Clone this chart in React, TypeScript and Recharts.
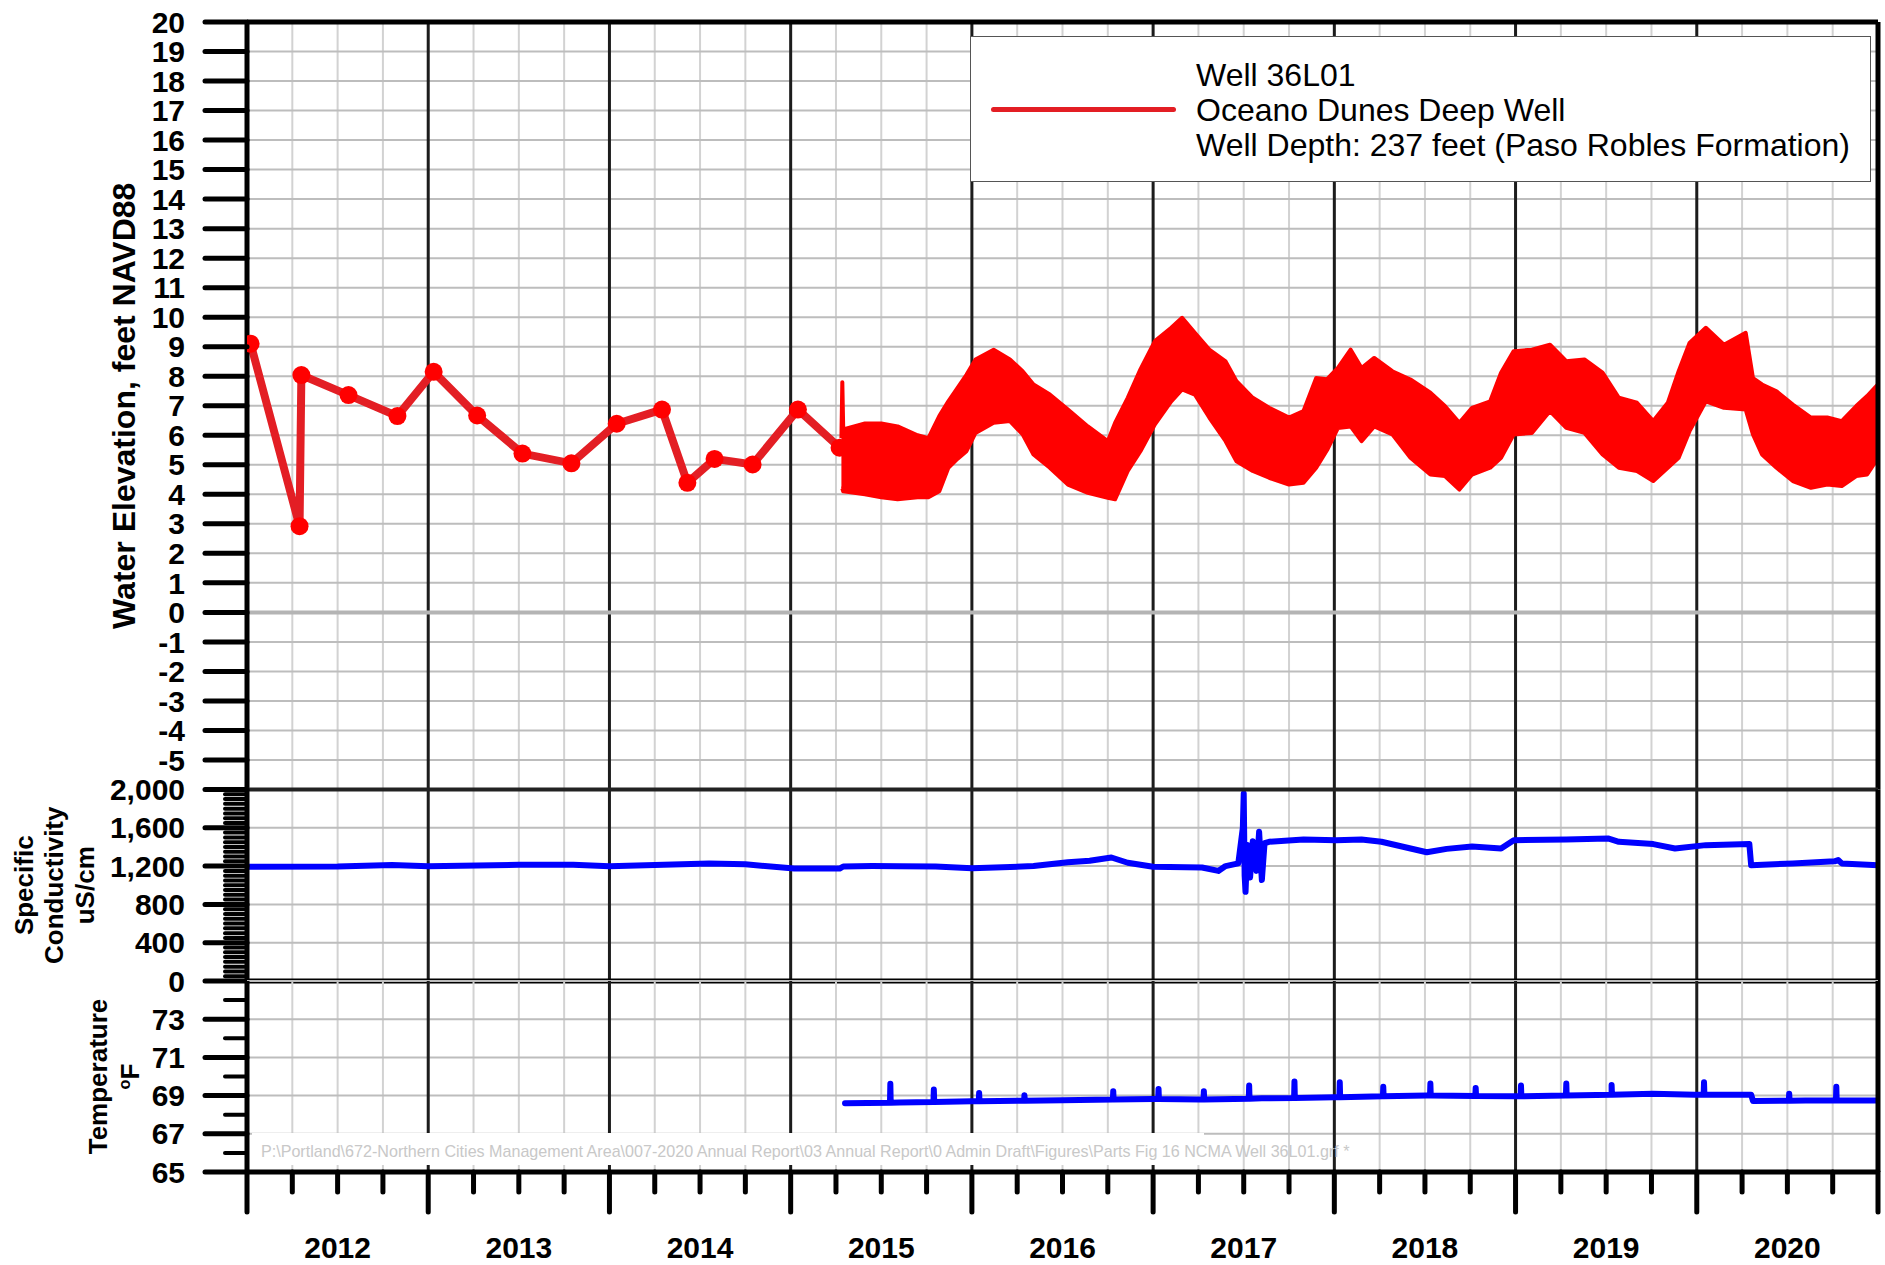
import React from "react";
import { ComposedChart, Line, Area, XAxis, YAxis, CartesianGrid, ReferenceLine, Legend } from "recharts";

const FONT = '"Liberation Sans", Arial, Helvetica, sans-serif';
const W = 1885;
const H = 1265;

// ---- axes (decimal years on x) ----
const X_DOMAIN: [number, number] = [2012, 2021];
const YEAR_TICKS = [2012, 2013, 2014, 2015, 2016, 2017, 2018, 2019, 2020, 2021];
const QUARTER_TICKS = [
  2012, 2012.25, 2012.5, 2012.75, 2013, 2013.25, 2013.5, 2013.75, 2014, 2014.25, 2014.5, 2014.75,
  2015, 2015.25, 2015.5, 2015.75, 2016, 2016.25, 2016.5, 2016.75, 2017, 2017.25, 2017.5, 2017.75,
  2018, 2018.25, 2018.5, 2018.75, 2019, 2019.25, 2019.5, 2019.75, 2020, 2020.25, 2020.5, 2020.75, 2021,
];
const WATER_TICKS = [-5, -4, -3, -2, -1, 0, 1, 2, 3, 4, 5, 6, 7, 8, 9, 10, 11, 12, 13, 14, 15, 16, 17, 18, 19, 20];
const COND_LABELS = [0, 400, 800, 1200, 1600, 2000];
const COND_TICKS = [
  0, 50, 100, 150, 200, 250, 300, 350, 400, 450, 500, 550, 600, 650, 700, 750, 800, 850, 900, 950, 1000,
  1050, 1100, 1150, 1200, 1250, 1300, 1350, 1400, 1450, 1500, 1550, 1600, 1650, 1700, 1750, 1800, 1850, 1900, 1950, 2000,
];
const TEMP_LABELS = [65, 67, 69, 71, 73];
const TEMP_TICKS = [65, 66, 67, 68, 69, 70, 71, 72, 73, 74];

// ---- texts ----
const WATER_TITLE = ["Water Elevation, feet NAVD88"];
const COND_TITLE = ["Specific", "Conductivity", "uS/cm"];
const TEMP_TITLE = ["Temperature", "oF"];
const LEGEND_LINES = ["Well 36L01", "Oceano Dunes Deep Well", "Well Depth: 237 feet (Paso Robles Formation)"];
const FILE_PATH =
  "P:\\Portland\\672-Northern Cities Management Area\\007-2020 Annual Report\\03 Annual Report\\0 Admin Draft\\Figures\\Parts Fig 16 NCMA Well 36L01.grf *";

// ---- manual water level measurements ----
const MANUAL_YEARS = [2012.02, 2012.29, 2012.3, 2012.56, 2012.83, 2013.03, 2013.27, 2013.52, 2013.79, 2014.04, 2014.29, 2014.43, 2014.58, 2014.79, 2015.04, 2015.27];
const MANUAL_ELEV = [9.1, 2.92, 8.04, 7.36, 6.65, 8.15, 6.67, 5.38, 5.05, 6.39, 6.87, 4.39, 5.2, 5.01, 6.87, 5.58];

// ---- transducer record: daily swing envelope ----
const BAND_YEARS = [
  2015.28, 2015.285, 2015.29, 2015.41, 2015.5, 2015.59, 2015.7, 2015.76, 2015.82, 2015.87, 2015.92, 2015.97,
  2016.02, 2016.12, 2016.21, 2016.28, 2016.34, 2016.43, 2016.53, 2016.64, 2016.75, 2016.79, 2016.86, 2016.93,
  2017.01, 2017.1, 2017.16, 2017.23, 2017.31, 2017.4, 2017.46, 2017.55, 2017.64, 2017.75, 2017.83, 2017.9, 2017.96,
  2018.02, 2018.09, 2018.15, 2018.22, 2018.32, 2018.42, 2018.53, 2018.61, 2018.69, 2018.76, 2018.86, 2018.92, 2018.99,
  2019.09, 2019.19, 2019.28, 2019.38, 2019.48, 2019.57, 2019.67, 2019.76, 2019.84, 2019.9, 2019.96,
  2020.05, 2020.15, 2020.27, 2020.31, 2020.36, 2020.44, 2020.53, 2020.63, 2020.72, 2020.8, 2020.88, 2020.94, 2021.0,
];
const BAND_LOW = [
  4.2, 4.2, 4.1, 4.0, 3.9, 3.83, 3.9, 3.9, 4.1, 4.9, 5.2, 5.46,
  6.08, 6.42, 6.48, 6.03, 5.35, 4.9, 4.33, 4.05, 3.88, 3.83, 4.79, 5.46,
  6.37, 7.15, 7.55, 7.38, 6.6, 5.8, 5.12, 4.79, 4.56, 4.33, 4.39, 4.9, 5.5,
  6.25, 6.3, 5.8, 6.3, 6.03, 5.24, 4.67, 4.62, 4.16, 4.67, 4.9, 5.24, 6.03,
  6.08, 6.82, 6.25, 6.08, 5.35, 4.9, 4.79, 4.45, 4.9, 5.24, 6.14,
  7.15, 6.93, 6.87, 6.03, 5.35, 4.9, 4.45, 4.22, 4.33, 4.28, 4.62, 4.67, 5.24,
];
const BAND_HIGH = [
  5.9, 7.8, 6.2, 6.4, 6.4, 6.3, 6.0, 5.9, 6.65, 7.15, 7.6, 8.05,
  8.57, 8.9, 8.57, 8.17, 7.72, 7.38, 6.87, 6.3, 5.8, 6.42, 7.27, 8.23,
  9.19, 9.64, 9.98, 9.47, 8.9, 8.5, 7.83, 7.27, 6.93, 6.6, 6.82, 7.94, 7.9,
  8.28, 8.9, 8.28, 8.62, 8.17, 7.89, 7.44, 6.99, 6.42, 6.93, 7.15, 8.12, 8.85,
  8.9, 9.07, 8.51, 8.57, 8.12, 7.27, 7.1, 6.48, 7.1, 8.17, 9.13,
  9.64, 9.07, 9.47, 7.94, 7.72, 7.49, 7.04, 6.6, 6.6, 6.48, 6.99, 7.33, 7.72,
];

// ---- specific conductivity ----
const COND_YEARS = [
  2012.0, 2012.5, 2012.8, 2013.0, 2013.5, 2013.8, 2014.0, 2014.55, 2014.75, 2015.02, 2015.27, 2015.29, 2015.45,
  2015.6, 2015.8, 2016.0, 2016.34, 2016.53, 2016.65, 2016.77, 2016.86, 2017.0, 2017.27, 2017.36, 2017.4, 2017.47,
  2017.495, 2017.5, 2017.505, 2017.51, 2017.52, 2017.535, 2017.55, 2017.57, 2017.585, 2017.6, 2017.615, 2017.64,
  2017.83, 2018.01, 2018.15, 2018.26, 2018.51, 2018.62, 2018.76, 2018.92, 2018.99, 2019.28, 2019.51, 2019.57,
  2019.76, 2019.88, 2020.05, 2020.29, 2020.3, 2020.53, 2020.76, 2020.78, 2020.8, 2021.0,
];
const COND_VALUES = [
  1192, 1196, 1212, 1199, 1213, 1213, 1199, 1226, 1219, 1174, 1174, 1196, 1200,
  1198, 1195, 1178, 1200, 1240, 1255, 1290, 1235, 1193, 1186, 1150, 1200, 1228,
  1600, 1958, 1100, 932, 1420, 1080, 1460, 1150, 1558, 1054, 1440, 1454,
  1478, 1471, 1478, 1454, 1345, 1380, 1405, 1384, 1471, 1478, 1489, 1454,
  1430, 1384, 1419, 1430, 1210, 1228, 1250, 1263, 1228, 1210,
];

// ---- temperature ----
const TEMP_YEARS = [2015.3, 2015.6, 2016.0, 2016.5, 2017.0, 2017.26, 2017.6, 2018.0, 2018.51, 2019.0, 2019.53, 2019.76, 2019.99, 2020.3, 2020.31, 2020.6, 2021.0];
const TEMP_VALUES = [68.6, 68.64, 68.7, 68.76, 68.82, 68.79, 68.86, 68.92, 69.0, 68.96, 69.04, 69.1, 69.05, 69.05, 68.72, 68.74, 68.75];
const SPIKE_YEARS = [2015.55, 2015.79, 2016.04, 2016.29, 2016.78, 2017.03, 2017.28, 2017.53, 2017.78, 2018.03, 2018.27, 2018.53, 2018.78, 2019.03, 2019.28, 2019.53, 2020.04, 2020.51, 2020.77];
const SPIKE_BASE = [68.63, 68.67, 68.7, 68.73, 68.79, 68.82, 68.79, 68.83, 68.88, 68.92, 68.96, 69.0, 68.98, 68.96, 69.0, 69.04, 69.05, 68.73, 68.74];
const SPIKE_PEAK = [69.62, 69.32, 69.14, 69.02, 69.23, 69.35, 69.23, 69.53, 69.74, 69.7, 69.46, 69.63, 69.4, 69.53, 69.63, 69.56, 69.7, 69.1, 69.46];

const manualData = MANUAL_YEARS.map((x, i) => ({ x, elev: MANUAL_ELEV[i] }));
const bandData = BAND_YEARS.map((x, i) => ({ x, range: [BAND_LOW[i], BAND_HIGH[i]] }));
const condData = COND_YEARS.map((x, i) => ({ x, cond: COND_VALUES[i] }));
const tempData = [
  ...TEMP_YEARS.map((x, i) => ({ x, temp: TEMP_VALUES[i] })),
  ...SPIKE_YEARS.flatMap((x, i) => [
    { x: x - 0.002, temp: SPIKE_BASE[i] },
    { x, temp: SPIKE_PEAK[i] },
    { x: x + 0.002, temp: SPIKE_BASE[i] },
  ]),
].sort((a, b) => a.x - b.x);

const GRID_GRAY = "#d2d2d2";
const GRID_H = "#bdbdbd";
const YEAR_LINE = "#1c1c1c";

// left axis tick: long line + label for labelled values, short line otherwise
const leftTick = (labels: number[], fmt: (v: number) => string) => (props: any) => {
  const { x, y, payload } = props;
  const major = labels.includes(payload.value);
  return (
    <g>
      <line x1={x - (major ? 42 : 22)} x2={x} y1={y} y2={y} stroke="#000" strokeWidth={major ? 5 : 4} strokeLinecap="round" />
      {major && (
        <text x={x - 62} y={y} dy="0.355em" textAnchor="end" fontSize={30} fontWeight={700} fontFamily={FONT} fill="#000">
          {fmt(payload.value)}
        </text>
      )}
    </g>
  );
};

const BottomTick = (props: any) => {
  const { x, y, payload } = props;
  const v = payload.value as number;
  const isYear = Math.abs(v - Math.round(v)) < 1e-6;
  const isMid = Math.abs(v - Math.floor(v) - 0.5) < 1e-6;
  return (
    <g>
      <line x1={x} x2={x} y1={y} y2={y + (isYear ? 40 : 20)} stroke="#000" strokeWidth={5} strokeLinecap="round" />
      {isMid && (
        <text x={x} y={y + 86} textAnchor="middle" fontSize={30} fontWeight={700} fontFamily={FONT} fill="#000">
          {Math.floor(v)}
        </text>
      )}
    </g>
  );
};

const SideTitle = ({ viewBox, lines, xs, fontSize, fallbackY }: any) => {
  const cy = viewBox && viewBox.height ? viewBox.y + viewBox.height / 2 : fallbackY;
  return (
    <g>
      {lines.map((t: string, i: number) => (
        <text
          key={t}
          x={xs[i]}
          y={cy}
          transform={`rotate(-90, ${xs[i]}, ${cy})`}
          textAnchor="middle"
          fontSize={fontSize}
          fontWeight={700}
          fontFamily={FONT}
          fill="#000"
        >
          {t === "oF" ? (
            <>
              <tspan dy={0.35 * fontSize - 9} fontSize={fontSize * 0.62}>o</tspan>
              <tspan dy={9}>F</tspan>
            </>
          ) : (
            <tspan dy={0.35 * fontSize}>{t}</tspan>
          )}
        </text>
      ))}
    </g>
  );
};

const WellLegend = (props: any) => {
  const item = (props.payload || []).find((p: any) => p.value === LEGEND_LINES[0]);
  const color = item ? item.color : "#e31e24";
  return (
    <div style={{ position: "relative", width: 899, height: 144, border: "1px solid #555", background: "#fff", fontFamily: FONT }}>
      <div style={{ position: "absolute", left: 20, top: 70, width: 185, height: 5, borderRadius: 3, background: color }} />
      <div style={{ position: "absolute", left: 225, top: 21, fontSize: 32, lineHeight: "35px", color: "#000", whiteSpace: "nowrap" }}>
        {LEGEND_LINES.map((l) => (
          <div key={l}>{l}</div>
        ))}
      </div>
    </div>
  );
};

const hiddenX = () => [
  <XAxis key="q" xAxisId="q" dataKey="x" type="number" domain={X_DOMAIN} ticks={QUARTER_TICKS} interval={0} allowDataOverflow hide />,
];

// black year boundaries, drawn through the axis scale
const yearLines = (yId: string) =>
  YEAR_TICKS.slice(1, -1).map((yr) => (
    <ReferenceLine key={`yr${yr}`} xAxisId="q" yAxisId={yId} x={yr} stroke={YEAR_LINE} strokeWidth={3} zIndex={-50} />
  ));

const layer: React.CSSProperties = { position: "absolute", left: 0, top: 0 };
const fmtPlain = (v: number) => String(v);
const fmtComma = (v: number) => v.toLocaleString("en-US");

export default function App() {
  return (
    <div style={{ position: "absolute", left: 0, top: 0, width: W, height: H, background: "#fff", overflow: "hidden" }}>
      {/* water elevation */}
      <div style={layer}>
        <ComposedChart width={W} height={H} margin={{ top: 22, right: 7, bottom: 475.5, left: 0 }}>
          {hiddenX()}
          <YAxis
            yAxisId="w"
            type="number"
            domain={[-6, 20]}
            ticks={WATER_TICKS}
            interval={0}
            allowDataOverflow
            width={247}
            tickSize={0}
            tickMargin={0}
            tickLine={false}
            axisLine={{ stroke: "#000", strokeWidth: 5 }}
            tick={leftTick(WATER_TICKS, fmtPlain)}
            label={(p: any) => <SideTitle viewBox={p.viewBox} lines={WATER_TITLE} xs={[124]} fontSize={32} fallbackY={406} />}
          />
          <CartesianGrid xAxisId="q" yAxisId="w" horizontal={false} stroke={GRID_GRAY} strokeWidth={2} />
          <CartesianGrid xAxisId="q" yAxisId="w" vertical={false} stroke={GRID_H} strokeWidth={2} />
          {yearLines("w")}
          <ReferenceLine xAxisId="q" yAxisId="w" y={0} stroke="#b4b4b4" strokeWidth={4} />
          <Area
            xAxisId="q"
            yAxisId="w"
            data={bandData}
            dataKey="range"
            type="linear"
            stroke="#ff0000"
            strokeWidth={4}
            strokeLinejoin="round"
            fill="#ff0000"
            fillOpacity={1}
            legendType="none"
            isAnimationActive={false}
          />
          <Line
            xAxisId="q"
            yAxisId="w"
            data={manualData}
            dataKey="elev"
            name={LEGEND_LINES[0]}
            type="linear"
            stroke="#e31e24"
            strokeWidth={8}
            dot={{ r: 9, fill: "#ff0000", stroke: "#ff0000", strokeWidth: 0 }}
            isAnimationActive={false}
          />
          <ReferenceLine xAxisId="q" yAxisId="w" y={20} stroke="#000" strokeWidth={5} />
          <ReferenceLine xAxisId="q" yAxisId="w" x={2021} stroke="#000" strokeWidth={5} />
          <Legend
            layout="horizontal"
            align="center"
            verticalAlign="middle"
            wrapperStyle={{ left: 970, top: 36, width: 901, height: 146 }}
            content={(p: any) => <WellLegend {...p} />}
          />
        </ComposedChart>
      </div>

      {/* specific conductivity */}
      <div style={layer}>
        <ComposedChart width={W} height={H} margin={{ top: 789.5, right: 7, bottom: 284, left: 0 }}>
          {hiddenX()}
          <YAxis
            yAxisId="c"
            type="number"
            domain={[0, 2000]}
            ticks={COND_TICKS}
            interval={0}
            allowDataOverflow
            width={247}
            tickSize={0}
            tickMargin={0}
            tickLine={false}
            axisLine={{ stroke: "#000", strokeWidth: 5 }}
            tick={leftTick(COND_LABELS, fmtComma)}
            label={(p: any) => <SideTitle viewBox={p.viewBox} lines={COND_TITLE} xs={[24, 54, 85]} fontSize={26} fallbackY={885} />}
          />
          <YAxis yAxisId="cg" type="number" domain={[0, 2000]} ticks={COND_LABELS} interval={0} allowDataOverflow hide />
          <CartesianGrid xAxisId="q" yAxisId="cg" horizontal={false} stroke={GRID_GRAY} strokeWidth={2} />
          <CartesianGrid xAxisId="q" yAxisId="cg" vertical={false} stroke={GRID_H} strokeWidth={2} />
          {yearLines("c")}
          <Line
            xAxisId="q"
            yAxisId="c"
            data={condData}
            dataKey="cond"
            name="Specific Conductivity"
            type="linear"
            stroke="#0000ff"
            strokeWidth={6}
            strokeLinejoin="round"
            dot={false}
            isAnimationActive={false}
          />
          <ReferenceLine xAxisId="q" yAxisId="c" y={2000} stroke="#222" strokeWidth={4} />
          <ReferenceLine xAxisId="q" yAxisId="c" y={0} stroke="#000" strokeWidth={5} />
          <ReferenceLine xAxisId="q" yAxisId="c" x={2021} stroke="#000" strokeWidth={5} />
        </ComposedChart>
      </div>

      {/* temperature */}
      <div style={layer}>
        <ComposedChart width={W} height={H} margin={{ top: 981, right: 7, bottom: 0, left: 0 }}>
          <XAxis
            xAxisId="q"
            dataKey="x"
            type="number"
            domain={X_DOMAIN}
            ticks={QUARTER_TICKS}
            interval={0}
            allowDataOverflow
            height={93}
            tickSize={0}
            tickMargin={0}
            tickLine={false}
            axisLine={{ stroke: "#000", strokeWidth: 5 }}
            tick={(p: any) => <BottomTick {...p} />}
          />
          <YAxis
            yAxisId="t"
            type="number"
            domain={[65, 75]}
            ticks={TEMP_TICKS}
            interval={0}
            allowDataOverflow
            width={247}
            tickSize={0}
            tickMargin={0}
            tickLine={false}
            axisLine={{ stroke: "#000", strokeWidth: 5 }}
            tick={leftTick(TEMP_LABELS, fmtPlain)}
            label={(p: any) => <SideTitle viewBox={p.viewBox} lines={TEMP_TITLE} xs={[98, 130]} fontSize={26} fallbackY={1077} />}
          />
          <YAxis yAxisId="tg" type="number" domain={[65, 75]} ticks={TEMP_LABELS} interval={0} allowDataOverflow hide />
          <CartesianGrid xAxisId="q" yAxisId="tg" horizontal={false} stroke={GRID_GRAY} strokeWidth={2} />
          <CartesianGrid xAxisId="q" yAxisId="tg" vertical={false} stroke={GRID_H} strokeWidth={2} />
          {yearLines("t")}
          <Line
            xAxisId="q"
            yAxisId="t"
            data={tempData}
            dataKey="temp"
            name="Temperature"
            type="linear"
            stroke="#0000ff"
            strokeWidth={6}
            strokeLinejoin="round"
            strokeLinecap="round"
            dot={false}
            isAnimationActive={false}
          />
          <ReferenceLine xAxisId="q" yAxisId="t" x={2021} stroke="#000" strokeWidth={5} />
        </ComposedChart>
      </div>

      {/* drawing path stamp */}
      <div style={{ position: "absolute", left: 252, top: 1133, width: 952, height: 32, background: "#fff" }}>
        <span
          style={{ position: "absolute", left: 9, top: 10, fontSize: 16.1, lineHeight: "16px", color: "#c8c8c8", fontFamily: FONT, whiteSpace: "nowrap" }}
        >
          {FILE_PATH}
        </span>
      </div>
    </div>
  );
}
